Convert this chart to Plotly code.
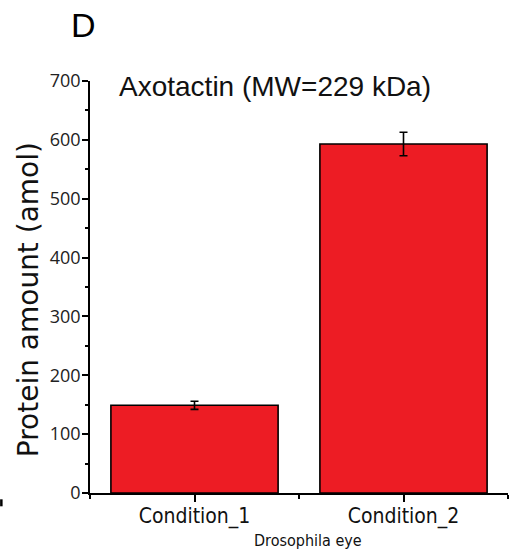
import plotly.graph_objects as go

# Protein quantification for Axotactin in Drosophila eye
categories = ["Condition_1", "Condition_2"]
amounts = [149, 593]          # amol
errors = [7, 20]              # amol
y_ticks = [0, 100, 200, 300, 400, 500, 600, 700]

x_pos = list(range(len(categories)))

NARROW = "DejaVu Sans Condensed, Liberation Sans Narrow, Arial Narrow, sans-serif"

fig = go.Figure()
fig.add_trace(go.Bar(
    x=x_pos,
    y=amounts,
    width=0.8,
    marker=dict(color="#ED1C24", line=dict(color="black", width=1.6)),
    error_y=dict(type="data", array=errors, visible=True,
                 color="black", thickness=1.6, width=4),
))

W, H = 511, 553
L, R, T, B = 90, 2.5, 81, 60.3
pw = W - L - R
ph = H - T - B

def px_x(p):
    return (p - L) / pw

def px_y(p):
    return (H - B - p) / ph

fig.update_layout(
    width=W, height=H,
    margin=dict(l=L, r=R, t=T, b=B, pad=0),
    plot_bgcolor="white", paper_bgcolor="white",
    showlegend=False,
    xaxis=dict(
        range=[-0.5, 1.5],
        tickmode="array", tickvals=x_pos, ticktext=categories,
        ticks="outside", ticklen=7, tickwidth=1.6, tickcolor="black",
        minor=dict(tickmode="array", tickvals=[-0.5, 0.5, 1.5],
                   ticks="outside", ticklen=4, tickwidth=1.6, tickcolor="black"),
        showline=True, linecolor="black", linewidth=1.6,
        showgrid=False, zeroline=False,
        ticklabelstandoff=-4,
        tickfont=dict(family=NARROW, size=21, color="#111"),
    ),
    yaxis=dict(
        range=[0, 700],
        tickmode="array", tickvals=y_ticks,
        ticks="outside", ticklen=6, tickwidth=1.6, tickcolor="black",
        minor=dict(dtick=50, tick0=0, ticks="outside", ticklen=3,
                   tickwidth=1.6, tickcolor="black", showgrid=False),
        showline=True, linecolor="black", linewidth=1.6,
        showgrid=False, zeroline=False,
        ticklabelstandoff=-2,
        tickfont=dict(family="Open Sans, sans-serif", size=18, color="#222"),
    ),
    annotations=[
        dict(text="Axotactin (MW=229 kDa)", xref="paper", yref="paper",
             x=px_x(117), y=px_y(86), xanchor="left", yanchor="middle",
             showarrow=False,
             font=dict(family="Liberation Sans, Arial, sans-serif", size=28, color="#111")),
        dict(text="D", xref="paper", yref="paper",
             x=px_x(69), y=px_y(25), xanchor="left", yanchor="middle",
             showarrow=False,
             font=dict(family="Liberation Sans, Arial, sans-serif", size=34, color="black")),
        dict(text="Protein amount (amol)", xref="paper", yref="paper",
             x=px_x(28), y=px_y(300), xanchor="center", yanchor="middle",
             textangle=-90, showarrow=False,
             font=dict(family="DejaVu Sans, sans-serif", size=28, color="#111")),
        dict(text="Drosophila eye", xref="paper", yref="paper",
             x=px_x(308), y=px_y(540), xanchor="center", yanchor="middle",
             showarrow=False,
             font=dict(family=NARROW, size=16, color="#111")),
    ],
    shapes=[
        dict(type="rect", xref="paper", yref="paper",
             x0=px_x(0), x1=px_x(2.5), y0=px_y(506), y1=px_y(499),
             fillcolor="black", line=dict(width=0)),
    ],
)

fig.write_html("out.html")
